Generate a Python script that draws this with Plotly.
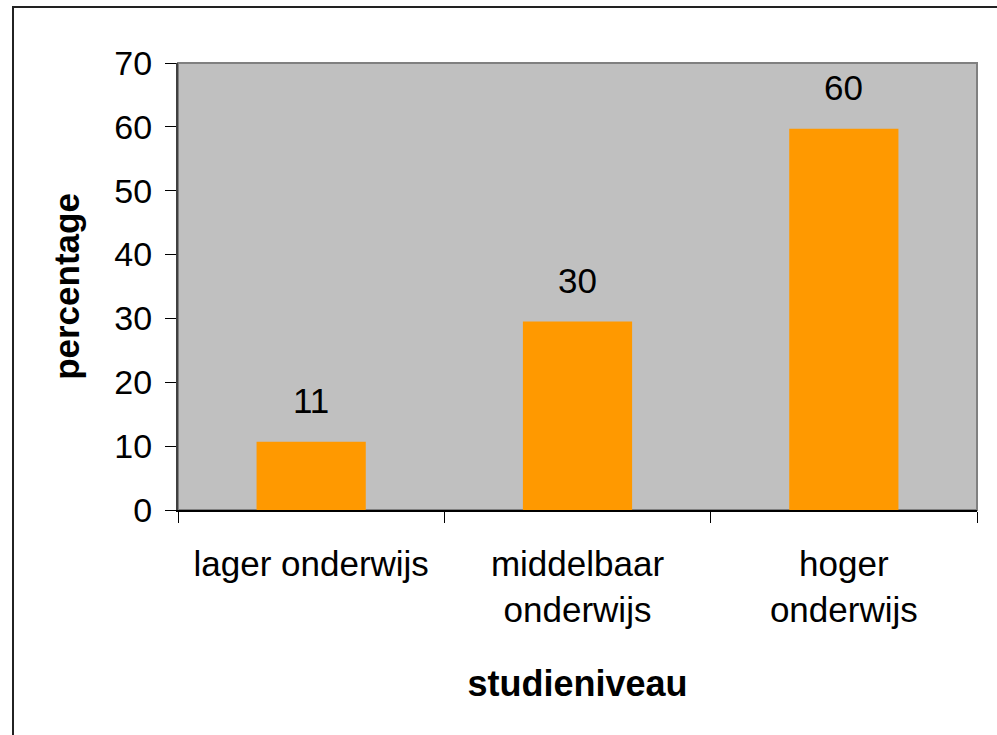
import plotly.graph_objects as go

categories = ["lager onderwijs", "middelbaar<br>onderwijs", "hoger<br>onderwijs"]
values = [10.7, 29.5, 59.7]
value_labels = ["11", "30", "60"]
y_ticks = [0, 10, 20, 30, 40, 50, 60, 70]

FONT = "Arial, Liberation Sans, sans-serif"

fig = go.Figure()
fig.add_trace(go.Bar(
    x=categories, y=values,
    marker=dict(color="#FF9900", line=dict(width=0)),
    hoverinfo="skip",
))

for c, v, t in zip(categories, values, value_labels):
    fig.add_annotation(x=c, y=v, text=t, showarrow=False, yanchor="middle",
                       yshift=41, font=dict(family=FONT, size=35, color="black"))

# plot-area border (gray) and outer chart border
fig.add_shape(type="rect", xref="paper", yref="paper", x0=0, x1=1, y0=0, y1=1,
              line=dict(color="#808080", width=2), layer="below")
fig.add_shape(type="rect", xref="paper", yref="paper",
              x0=-0.2065, x1=1.05, y0=-0.55, y1=1.1253,
              line=dict(color="#222222", width=2), layer="below")

fig.update_layout(
    width=997, height=735,
    margin=dict(l=178, r=20, t=63, b=225),
    paper_bgcolor="white", plot_bgcolor="#C0C0C0",
    bargap=0.59, showlegend=False,
    font=dict(family=FONT, color="black"),
)
fig.update_xaxes(
    showline=True, linecolor="black", linewidth=2,
    ticks="outside", ticklen=11, tickcolor="black", tickwidth=1,
    tickson="boundaries", ticklabelstandoff=22,
    tickfont=dict(family=FONT, size=35),
    showgrid=False,
    title=dict(text="<b>studieniveau</b>", font=dict(family=FONT, size=36), standoff=43),
)
fig.update_yaxes(
    range=[0, 70], tickvals=y_ticks,
    showline=True, linecolor="#404040", linewidth=2,
    ticks="outside", ticklen=11, tickcolor="black", tickwidth=1,
    ticklabelstandoff=6,
    tickfont=dict(family=FONT, size=34),
    showgrid=False, zeroline=False,
    title=dict(text="<b>percentage</b>", font=dict(family=FONT, size=35), standoff=24),
)

fig.write_html(
    "out.html",
    config={"displayModeBar": False},
    post_script="document.body.style.margin='0';document.body.style.overflow='hidden';",
)
